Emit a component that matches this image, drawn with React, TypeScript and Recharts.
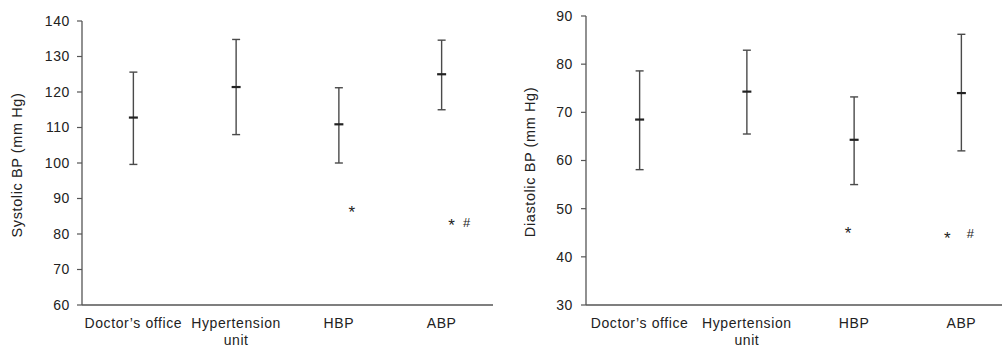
import { ComposedChart, Line, ErrorBar, XAxis, YAxis } from "recharts";

const categories = ["Doctor’s office", "Hypertension\nunit", "HBP", "ABP"];

const systolicMean = [112.8, 121.4, 110.9, 125.0];
const systolicLow = [99.6, 108.0, 100.0, 115.0];
const systolicHigh = [125.6, 134.8, 121.2, 134.6];
const systolicStar = [null, null, 87.0, 83.4];
const systolicHash = [null, null, null, 83.4];
const systolicTicks = [60, 70, 80, 90, 100, 110, 120, 130, 140];

const diastolicMean = [68.5, 74.3, 64.3, 74.0];
const diastolicLow = [58.1, 65.5, 55.0, 62.0];
const diastolicHigh = [78.6, 82.9, 73.2, 86.2];
const diastolicStar = [null, null, 45.6, 44.5];
const diastolicHash = [null, null, null, 45.0];
const diastolicTicks = [30, 40, 50, 60, 70, 80, 90];

const FONT = '"Liberation Sans", Arial, Helvetica, sans-serif';
const AXIS = "#555";
const TEXT = "#222";

type Row = {
  name: string;
  mean: number;
  err: [number, number];
  star: number | null;
  hash: number | null;
};

function buildRows(
  mean: number[],
  low: number[],
  high: number[],
  star: (number | null)[],
  hash: (number | null)[],
): Row[] {
  return categories.map((name, i) => ({
    name,
    mean: mean[i],
    err: [mean[i] - low[i], high[i] - mean[i]],
    star: star[i],
    hash: hash[i],
  }));
}

const MeanDash = (props: any) => {
  const { cx, cy, index } = props;
  if (cx == null || cy == null) return <g key={`m${index}`} />;
  return (
    <line
      key={`m${index}`}
      x1={cx - 4.5}
      x2={cx + 4.5}
      y1={cy}
      y2={cy}
      stroke="#222"
      strokeWidth={2.2}
    />
  );
};

const symbolDot = (glyph: string, offsets: number[], size: number, dy: number) =>
  (props: any) => {
    const { cx, cy, index, value } = props;
    if (value == null || cy == null || isNaN(cy)) return <g key={`s${glyph}${index}`} />;
    return (
      <text
        key={`s${glyph}${index}`}
        x={cx + offsets[index]}
        y={cy + dy}
        textAnchor="middle"
        fontSize={size}
        fontFamily={FONT}
        fill={TEXT}
      >
        {glyph}
      </text>
    );
  };

const CategoryTick = (props: any) => {
  const { x, y, payload } = props;
  const lines = String(payload.value).split("\n");
  return (
    <g>
      {lines.map((line: string, i: number) => (
        <text
          key={i}
          x={x}
          y={y + 23 + i * 17}
          textAnchor="middle"
          fontSize={14}
          letterSpacing={0.6}
          fontFamily={FONT}
          fill={TEXT}
        >
          {line}
        </text>
      ))}
    </g>
  );
};

type PanelProps = {
  rows: Row[];
  ticks: number[];
  width: number;
  right: number;
  top: number;
  axisWidth: number;
  tickMargin: number;
  starOffsets: number[];
  hashOffsets: number[];
};

function Panel({ rows, ticks, width, right, top, axisWidth, tickMargin, starOffsets, hashOffsets }: PanelProps) {
  const pad = (width - right - axisWidth) / (rows.length * 2);
  return (
    <ComposedChart
      width={width}
      height={347}
      data={rows}
      margin={{ top, right, bottom: 0, left: 0 }}
      style={{ fontFamily: FONT }}
    >
      <XAxis
        dataKey="name"
        height={42}
        padding={{ left: pad, right: pad }}
        tickLine={false}
        tickSize={0}
        tickMargin={0}
        axisLine={{ stroke: AXIS, strokeWidth: 1.3 }}
        tick={<CategoryTick />}
        interval={0}
      />
      <YAxis
        width={axisWidth}
        domain={[ticks[0], ticks[ticks.length - 1]]}
        ticks={ticks}
        interval={0}
        tickSize={5}
        tickMargin={tickMargin}
        axisLine={{ stroke: AXIS, strokeWidth: 1.3 }}
        tickLine={{ stroke: AXIS, strokeWidth: 1.2 }}
        tick={{ fill: TEXT, fontSize: 14, letterSpacing: 0.6, fontFamily: FONT }}
      />
      <Line
        dataKey="mean"
        stroke="none"
        isAnimationActive={false}
        dot={MeanDash}
        activeDot={false}
      >
        <ErrorBar dataKey="err" direction="y" width={4} stroke="#4a4a4a" strokeWidth={1.4} />
      </Line>
      <Line
        dataKey="star"
        stroke="none"
        isAnimationActive={false}
        dot={symbolDot("*", starOffsets, 17, 9)}
        activeDot={false}
      />
      <Line
        dataKey="hash"
        stroke="none"
        isAnimationActive={false}
        dot={symbolDot("#", hashOffsets, 13, 5)}
        activeDot={false}
      />
    </ComposedChart>
  );
}

export default function App() {
  const systolic = buildRows(systolicMean, systolicLow, systolicHigh, systolicStar, systolicHash);
  const diastolic = buildRows(diastolicMean, diastolicLow, diastolicHigh, diastolicStar, diastolicHash);
  return (
    <div
      style={{
        position: "fixed",
        left: 0,
        top: 0,
        width: 1002,
        height: 347,
        overflow: "hidden",
        background: "#fff",
      }}
    >
      <div style={{ position: "absolute", left: 0, top: 0 }}>
        <Panel
          rows={systolic}
          ticks={systolicTicks}
          width={500}
          right={7}
          top={21}
          axisWidth={82}
          tickMargin={7}
          starOffsets={[0, 0, 13, 10]}
          hashOffsets={[0, 0, 0, 25]}
        />
      </div>
      <div style={{ position: "absolute", left: 500, top: 0 }}>
        <Panel
          rows={diastolic}
          ticks={diastolicTicks}
          width={515}
          right={0}
          top={16}
          axisWidth={86}
          tickMargin={8}
          starOffsets={[0, 0, -6, -14]}
          hashOffsets={[0, 0, 0, 9]}
        />
      </div>
      <svg
        width={1002}
        height={347}
        style={{ position: "absolute", left: 0, top: 0, pointerEvents: "none" }}
      >
        <text
          transform="translate(22,165) rotate(-90)"
          textAnchor="middle"
          fontSize={14.5}
          letterSpacing={0.6}
          fontFamily={FONT}
          fill={TEXT}
        >
          Systolic BP (mm Hg)
        </text>
        <text
          transform="translate(535,162) rotate(-90)"
          textAnchor="middle"
          fontSize={14.5}
          letterSpacing={0.6}
          fontFamily={FONT}
          fill={TEXT}
        >
          Diastolic BP (mm Hg)
        </text>
      </svg>
    </div>
  );
}
